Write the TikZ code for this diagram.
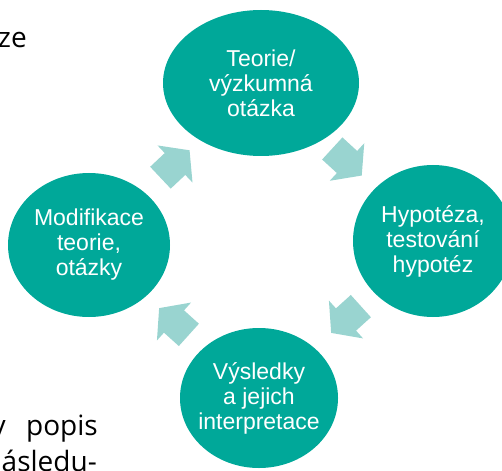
\documentclass[tikz,border=0pt]{standalone}
\usepackage{fontspec}
\setmainfont{Liberation Sans}
\newfontfamily\bodyfont{Open Sans}
\usetikzlibrary{shapes.geometric,calc}

\definecolor{stagefill}{RGB}{0,168,153}
\definecolor{arrowfill}{RGB}{153,212,208}

\begin{document}
\begin{tikzpicture}[x=1pt,y=-1pt,
  stage/.style={ellipse, fill=stagefill, text=white, align=center,
    inner xsep=-14pt, inner ysep=0pt,
    font=\fontsize{23}{25}\selectfont},
  bodytext/.style={font=\bodyfont\fontsize{28}{36}\selectfont,
    inner sep=0pt, anchor=base east},
  pics/flowarrow/.style={code={
    \fill[arrowfill] (-20,-15) -- (0,-15) -- (0,-25.5) -- (20,0)
      -- (0,25.5) -- (0,15) -- (-20,15) -- cycle;}}]
\useasboundingbox (0,0) rectangle (502,470);
\clip (0,0) rectangle (502,470);

% surrounding body text, cut by the frame
\node[bodytext] (ze) at (27,48) {ze};
\node[bodytext] (y) at (6,435) {y};
\node[bodytext] (popis) at (98,435) {popis};
\node[bodytext] (nasledu) at (97,471) {ásledu-};

% the four stages of the cycle
\node[stage, minimum width=196pt, minimum height=146pt] (theory) at (261,83)
  {Teorie/\\výzkumná\\otázka};
\node[stage, minimum width=160pt, minimum height=152pt] (hypo) at (433,241)
  {Hypotéza,\\testování\\hypotéz};
\node[stage, minimum width=158pt, minimum height=140pt] (results) at (259,398)
  {Výsledky\\a jejich\\interpretace};
\node[stage, minimum width=162pt, minimum height=144pt] (modif) at (89,245)
  {Modifikace\\teorie,\\otázky};

% block arrows halfway between consecutive stages
\foreach \from/\to in {modif/theory, theory/hypo, hypo/results, results/modif}
  \path let \p1=($(\to.center)-(\from.center)$), \n1={atan2(\y1,\x1)} in
    pic[rotate=\n1] at ($(\from.center)!0.5!(\to.center)$) {flowarrow};
\end{tikzpicture}
\end{document}
